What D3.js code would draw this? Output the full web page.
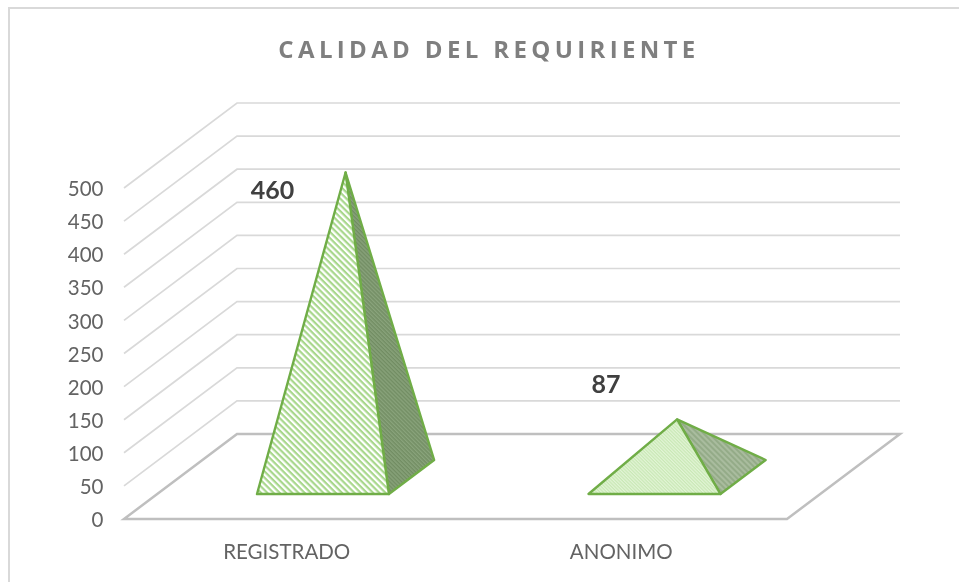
<!DOCTYPE html>
<html lang="es">
<head>
  <meta charset="UTF-8">
  <title>Calidad del requiriente</title>
  <style>
    html, body { margin: 0; padding: 0; background: #fff; overflow: hidden; }
    svg { display: block; filter: blur(0.35px); }
    text { font-family: Lato, "Open Sans", sans-serif; }
    text.titulo { font-family: "Open Sans", sans-serif; }
  </style>
  <script src="https://d3js.org/d3.v7.min.js"></script>
</head>
<body>
  <svg width="959" height="582"></svg>
  <script>
    // datos
    const categories = ["REGISTRADO", "ANONIMO"];
    const values = [460, 87];
    const yTicks = [0, 50, 100, 150, 200, 250, 300, 350, 400, 450, 500];
    const chartTitle = "CALIDAD DEL REQUIRIENTE";

    const svg = d3.select("svg");

    // piso en perspectiva: borde frontal y desplazamiento hacia el fondo
    const frontLeft = 124, frontRight = 787, floorFrontY = 519;
    const depthX = 113, depthY = 85;

    const x = d3.scaleBand().domain(categories).range([frontLeft, frontRight]);
    // escala sobre la pared del fondo
    const y = d3.scaleLinear().domain([0, 500]).range([floorFrontY - depthY, 103]);

    const baseWidth = x.bandwidth() * 0.398;
    const depthStart = 0.294, depthEnd = 0.694;
    const depthMid = (depthStart + depthEnd) / 2;

    // punto 3D: posicion en pantalla segun x frontal, valor y profundidad 0..1
    const pt = (px, v, d) => [px + depthX * d, y(v) + depthY * (1 - d)];

    const defs = svg.append("defs");
    function hatch(id, bg, fg, size, w) {
      const p = defs.append("pattern").attr("id", id)
        .attr("patternUnits", "userSpaceOnUse")
        .attr("width", size).attr("height", size)
        .attr("patternTransform", "rotate(45)");
      p.append("rect").attr("width", size).attr("height", size).attr("fill", bg);
      p.append("rect").attr("width", size).attr("height", w).attr("fill", fg);
    }
    hatch("front0", "#ffffff", "#a8d78c", 4.4, 2.2);
    hatch("side0", "#89a37b", "#728d63", 2.8, 1.4);
    hatch("front1", "#e2f4d6", "#c9e8b5", 2.4, 1.2);
    hatch("side1", "#a9bc9e", "#94ab88", 4, 2);

    // marco del grafico: solo se ven los bordes superior e izquierdo
    svg.append("rect")
      .attr("x", 9).attr("y", 8).attr("width", 980).attr("height", 620)
      .attr("fill", "#fff").attr("stroke", "#d9d9d9").attr("stroke-width", 2);

    svg.append("text")
      .attr("class", "titulo")
      .attr("x", 489).attr("y", 58)
      .attr("text-anchor", "middle")
      .attr("font-size", 24)
      .attr("font-weight", 700)
      .attr("letter-spacing", 4.35)
      .attr("fill", "#7f7f7f")
      .text(chartTitle);

    const line = d3.line();

    // lineas de la pared lateral y del fondo
    const grid = svg.append("g").attr("fill", "none");
    grid.selectAll("path")
      .data(yTicks.filter(t => t > 0))
      .join("path")
      .attr("d", t => line([pt(frontLeft, t, 0), pt(frontLeft, t, 1), pt(frontRight, t, 1)]))
      .attr("stroke", "#d9d9d9")
      .attr("stroke-width", 1.7);

    // piso
    svg.append("path")
      .attr("d", line([pt(frontLeft, 0, 0), pt(frontLeft, 0, 1), pt(frontRight, 0, 1), pt(frontRight, 0, 0)]) + "Z")
      .attr("fill", "none")
      .attr("stroke", "#bfbfbf")
      .attr("stroke-width", 2.5)
      .attr("stroke-linejoin", "miter");

    // etiquetas del eje de valores
    svg.append("g").selectAll("text")
      .data(yTicks)
      .join("text")
      .attr("x", 103.5)
      .attr("y", t => pt(frontLeft, t, 0)[1] + 1)
      .attr("dy", "0.35em")
      .attr("text-anchor", "end")
      .attr("font-size", 20.5)
      .attr("fill", "#636363")
      .text(d => d);

    // etiquetas de categoria
    const categoryShift = [-3, 0];
    svg.append("g").selectAll("text")
      .data(categories)
      .join("text")
      .attr("x", (d, i) => x(d) + x.bandwidth() / 2 + categoryShift[i])
      .attr("y", 559)
      .attr("text-anchor", "middle")
      .attr("font-size", 20.5)
      .attr("fill", "#636363")
      .text(d => d);

    // piramides: cara frontal y cara lateral
    const pyramids = svg.append("g")
      .selectAll("g")
      .data(categories.map((c, i) => ({ c, v: values[i], i })))
      .join("g")
      .attr("stroke", "#70ad47")
      .attr("stroke-width", 2.4)
      .attr("stroke-linejoin", "round");

    const left = d => x(d.c) + (x.bandwidth() - baseWidth) / 2;
    const apex = d => pt(left(d) + baseWidth / 2, d.v, depthMid);

    pyramids.append("path")
      .attr("fill", d => `url(#side${d.i})`)
      .attr("d", d => line([
        pt(left(d) + baseWidth, 0, depthStart),
        pt(left(d) + baseWidth, 0, depthEnd),
        apex(d)
      ]) + "Z");

    pyramids.append("path")
      .attr("fill", d => `url(#front${d.i})`)
      .attr("d", d => line([
        pt(left(d), 0, depthStart),
        pt(left(d) + baseWidth, 0, depthStart),
        apex(d)
      ]) + "Z");

    // etiquetas de datos
    const labelOffset = [[-73, 27], [-71, -26]];
    pyramids.append("text")
      .attr("x", d => apex(d)[0] + labelOffset[d.i][0])
      .attr("y", d => apex(d)[1] + labelOffset[d.i][1])
      .attr("text-anchor", "middle")
      .attr("font-size", 25)
      .attr("font-weight", 700)
      .attr("fill", "#404040")
      .attr("stroke", "none")
      .text(d => d.v);
  </script>
</body>
</html>
